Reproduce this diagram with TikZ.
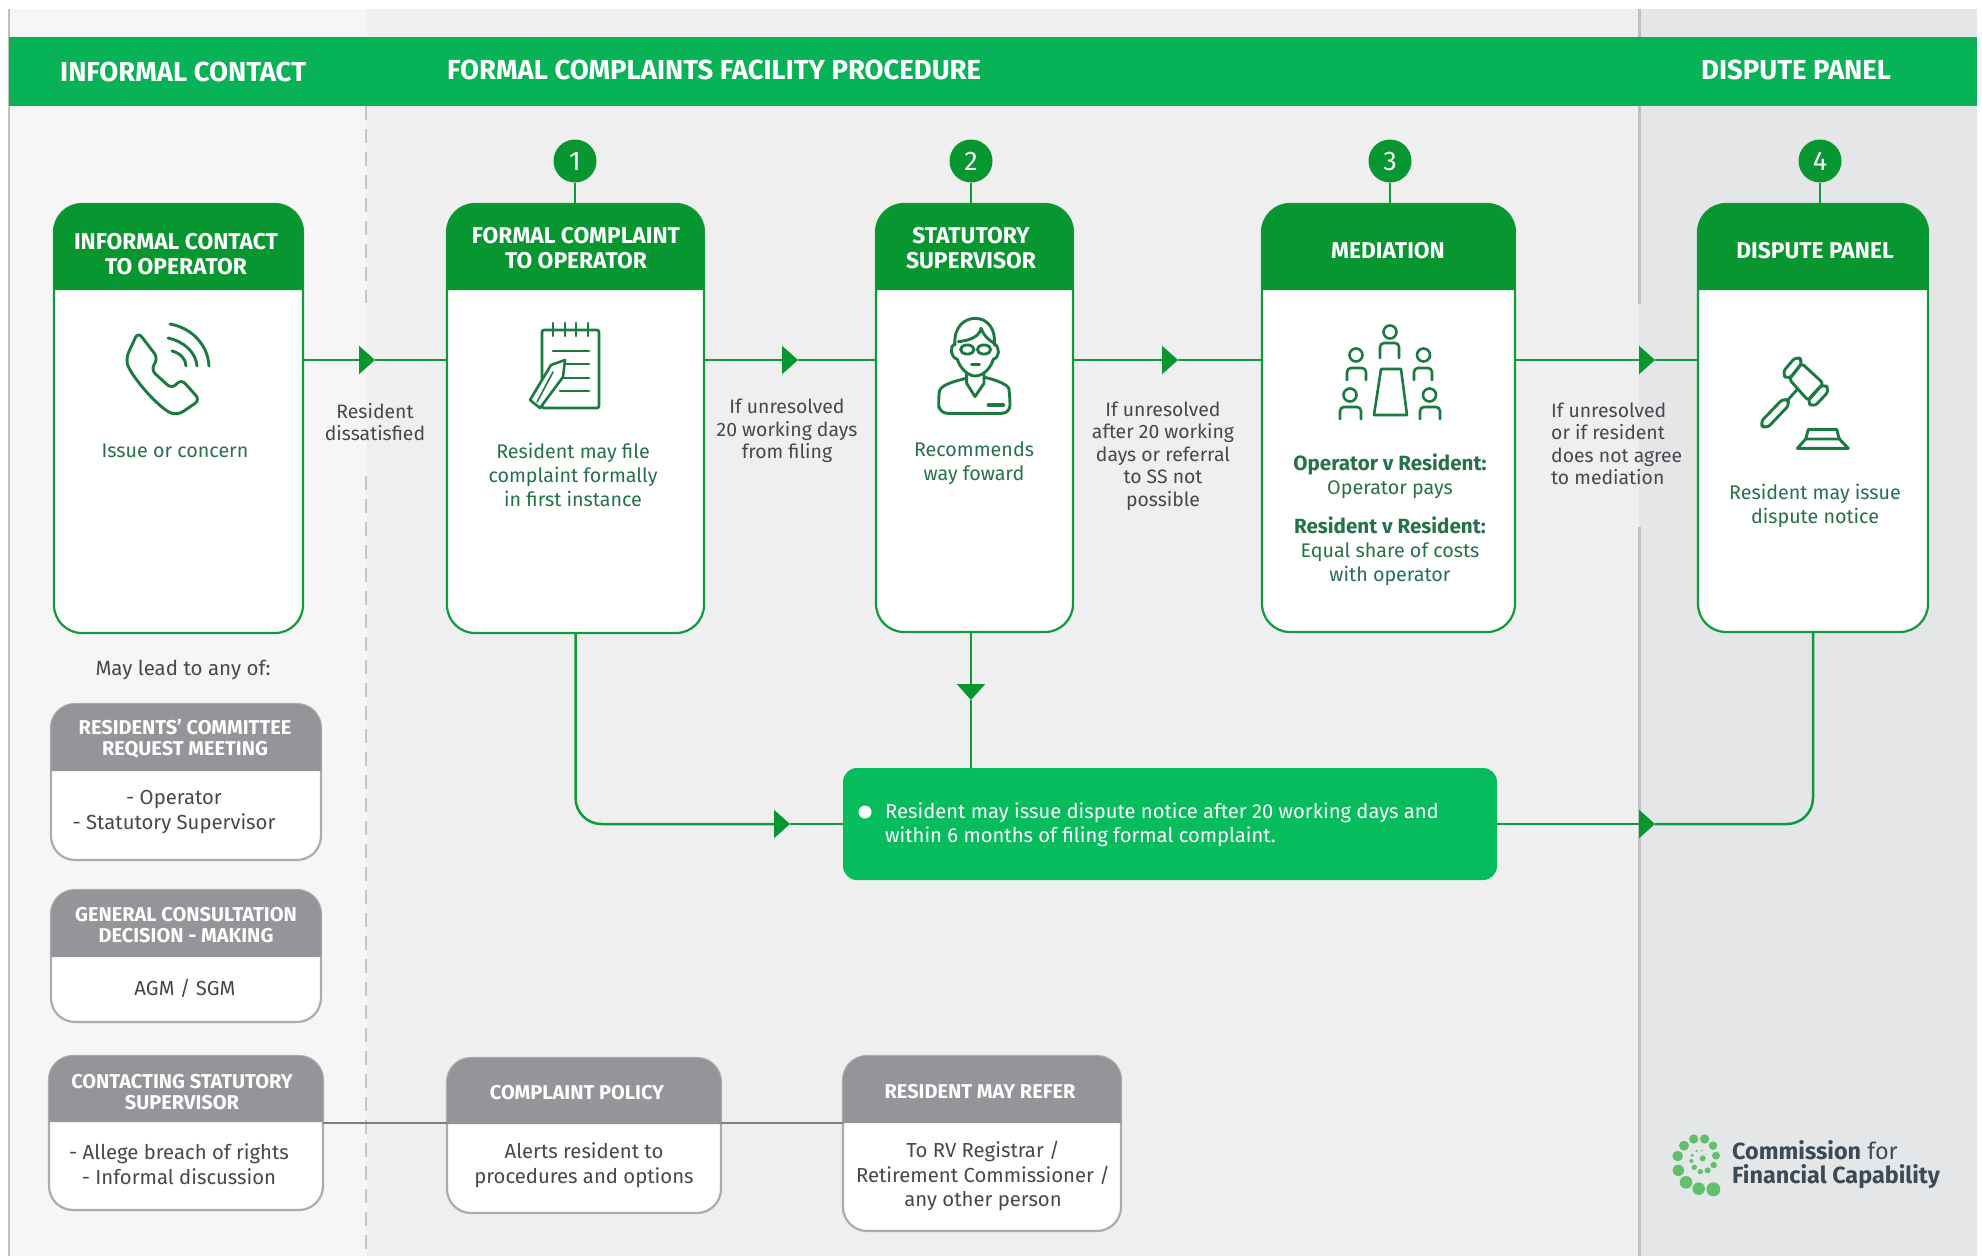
\documentclass[tikz,border=0pt]{standalone}
\usepackage{fontspec}
\setmainfont{Fira Sans}
\usetikzlibrary{arrows.meta}
\definecolor{bandgreen}{HTML}{08B256}
\definecolor{headgreen}{HTML}{07962F}
\definecolor{linegreen}{HTML}{119A38}
\definecolor{icongreen}{HTML}{1A7A40}
\definecolor{txtgreen}{HTML}{25714A}
\definecolor{boxgreen}{HTML}{06BC5C}
\definecolor{headgray}{HTML}{939598}
\definecolor{txtgray}{HTML}{47474C}
\definecolor{bgleft}{HTML}{F6F6F6}
\definecolor{bgmid}{HTML}{EFEFEF}
\definecolor{bgright}{HTML}{E5E6E8}
\definecolor{logotxt}{HTML}{3C4A56}
\definecolor{logogreen}{HTML}{62BF6C}
\newcommand{\fs}[2]{\fontsize{#1}{#2}\selectfont}
\tikzset{
  conn/.style={draw=linegreen,line width=2.5pt},
  tipped/.style={-{Triangle[length=16pt,width=28pt,color=headgreen]}},
  headtxt/.style={text=white,align=center,inner sep=0pt,font=\bfseries\fs{22.8}{25}},
  bandtxt/.style={text=white,inner sep=0pt,font=\bfseries\fs{27.5}{30}},
  bodytxt/.style={text=txtgreen,align=center,inner sep=0pt,font=\fs{19.7}{24}},
  sidetxt/.style={text=txtgray,align=center,inner sep=0pt,font=\fs{19.4}{22.5}},
  grayhead/.style={text=white,align=center,inner sep=0pt,font=\bfseries\fs{20}{21.5}},
  graybody/.style={text=txtgray,align=center,inner sep=0pt,font=\fs{20.3}{24.5}},
  numc/.style={circle,fill=headgreen,text=white,inner sep=0pt,minimum size=43pt,font=\fs{27}{30}},
  icon/.style={draw=icongreen,line width=2.9pt,line join=round,line cap=round},
}
% name x1 y1 x2 y2 yhead colour border-colour radius
\newcommand{\panel}[9]{%
  \node[draw=#8,fill=white,line width=2.2pt,rounded corners=#9pt,inner sep=0pt,outer sep=0pt,
        minimum width={(#4-#2)*1pt},minimum height={(#5-#3)*1pt},anchor=north west] (#1) at (#2,#3) {};
  \fill[#7] (#2,#6) -- ({#2},{#3+#9})
     .. controls ({#2},{#3+0.45*#9}) and ({#2+0.45*#9},{#3}) .. ({#2+#9},{#3})
     -- ({#4-#9},{#3})
     .. controls ({#4-0.45*#9},{#3}) and ({#4},{#3+0.45*#9}) .. ({#4},{#3+#9})
     -- (#4,#6) -- cycle;
}
\begin{document}
\begin{tikzpicture}[x=1pt,y=-1pt]
\useasboundingbox (0,0) rectangle (1982,1256);
\fill[white] (0,0) rectangle (1982,1256);
% backgrounds
\fill[bgleft] (9,9) rectangle (367,1256);
\fill[bgmid] (367,9) rectangle (1639,1256);
\fill[bgright] (1639,9) rectangle (1977,1256);
\draw[gray!50,line width=1.2pt] (9,9) -- (9,1256);
\draw[gray!45,line width=1.6pt,dash pattern=on 14pt off 9pt] (366,106) -- (366,303);
\draw[gray!45,line width=1.6pt,dash pattern=on 14pt off 9pt] (366,476) -- (366,1256);
\draw[gray!50,line width=3pt] (1639,9) -- (1639,304);
\draw[gray!50,line width=3pt] (1639,527) -- (1639,1256);
% band
\fill[bandgreen] (9,37) rectangle (1977,106);
\node[bandtxt,anchor=west] (t1) at (60,72) {INFORMAL CONTACT};
\node[bandtxt,anchor=west] (t2) at (447,70) {FORMAL COMPLAINTS FACILITY PROCEDURE};
\node[bandtxt,anchor=west] (t3) at (1701,70) {DISPUTE PANEL};
% coordinates for arrow tips
\coordinate (a0) at (375,360);
\coordinate (a1) at (798,360);
\coordinate (a2) at (1178,360);
\coordinate (a3) at (1655,360);
\coordinate (a5) at (790,824);
\coordinate (a6) at (1655,824);
\coordinate (ad) at (971,700);
% step panels
\panel{b0}{54}{204}{303}{633}{290}{headgreen}{linegreen}{28}
\panel{b1}{447}{204}{704}{633}{290}{headgreen}{linegreen}{28}
\panel{b2}{876}{204}{1073}{632}{290}{headgreen}{linegreen}{28}
\panel{b3}{1262}{204}{1515}{632}{290}{headgreen}{linegreen}{28}
\panel{b4}{1698}{204}{1928}{632}{290}{headgreen}{linegreen}{28}
\node[headtxt] (h0) at (176,254) {INFORMAL CONTACT\\TO OPERATOR};
\node[headtxt] (h1) at (576,248) {FORMAL COMPLAINT\\TO OPERATOR};
\node[headtxt] (h2) at (971,248) {STATUTORY\\SUPERVISOR};
\node[headtxt] (h3) at (1388,251) {MEDIATION};
\node[headtxt] (h4) at (1815,251) {DISPUTE PANEL};
% number circles
\node[numc] (c1) at (575,161) {1};
\node[numc] (c2) at (971,161) {2};
\node[numc] (c3) at (1390,161) {3};
\node[numc] (c4) at (1820,161) {4};
\draw[conn] (c1) -- (c1 |- b1.north);
\draw[conn] (c2) -- (c2 |- b2.north);
\draw[conn] (c3) -- (c3 |- b3.north);
\draw[conn] (c4) -- (c4 |- b4.north);
% horizontal connectors
\draw[conn,tipped] (b0.east |- a0) -- (a0);
\draw[conn] (a0) -- (a0 -| b1.west);
\draw[conn,tipped] (b1.east |- a1) -- (a1);
\draw[conn] (a1) -- (a1 -| b2.west);
\draw[conn,tipped] (b2.east |- a2) -- (a2);
\draw[conn] (a2) -- (a2 -| b3.west);
\draw[conn,tipped] (b3.east |- a3) -- (a3);
\draw[conn] (a3) -- (a3 -| b4.west);
% green note
\node[fill=boxgreen,rounded corners=14pt,inner sep=0pt,outer sep=0pt,minimum width=654pt,minimum height=112pt,anchor=north west] (note) at (843,768) {};
\fill[white] (865,812) circle (6.5pt);
\node[text=white,align=left,inner sep=0pt,anchor=west,font=\fs{20.2}{23.5}] (notet) at (885,825) {Resident may issue dispute notice after 20 working days and\\within 6 months of filing formal complaint.};
\draw[conn,tipped,rounded corners=26pt] (b1.south) -- (b1.south |- a5) -- (a5);
\draw[conn] (a5) -- (note.west);
\draw[conn,tipped] (c2 |- b2.south) -- (ad);
\draw[conn] (ad) -- (ad |- note.north);
\draw[conn,rounded corners=26pt] (a6) -- (b4.south |- a6) -- (b4.south);
\draw[conn,tipped] (note.east) -- (a6);
% body text
\node[bodytxt] (x0) at (175,451) {Issue or concern};
\node[bodytxt] (x1) at (573,475) {Resident may file\\complaint formally\\in first instance};
\node[bodytxt] (x2) at (974,463) {Recommends\\way foward};
\node[bodytxt] (x3a) at (1390,476) {\fs{20.6}{24}\bfseries Operator v Resident:\\\fs{19.7}{24}\mdseries Operator pays};
\node[bodytxt] (x3b) at (1390,551) {\fs{20.6}{24}\bfseries Resident v Resident:\\\fs{19.7}{24}\mdseries Equal share of costs\\with operator};
\node[bodytxt] (x4) at (1815,506) {Resident may issue\\dispute notice};
% side labels
\node[sidetxt] (s0) at (375,422) {Resident\\dissatisfied};
\node[sidetxt] (s1) at (787,431) {If unresolved\\20 working days\\from filing};
\node[sidetxt] (s2) at (1163,456) {If unresolved\\after 20 working\\days or referral\\to SS not\\possible};
\node[sidetxt,align=left,anchor=west] (s3) at (1551,444) {If unresolved\\or if resident\\does not agree\\to mediation};
\node[sidetxt,font=\fs{20.5}{24}] (s4) at (183,670) {May lead to any of:};
% gray panels
\panel{g0}{51}{704}{321}{860}{771}{headgray}{gray!65}{24}
\panel{g1}{51}{890}{321}{1022}{957}{headgray}{gray!65}{24}
\panel{g2}{49}{1056}{323}{1210}{1122}{headgray}{gray!65}{24}
\panel{g3}{447}{1058}{721}{1213}{1124}{headgray}{gray!65}{24}
\panel{g4}{843}{1056}{1121}{1231}{1123}{headgray}{gray!65}{24}
\coordinate (gl) at (0,1123);
\draw[draw=headgray!85!black,line width=2.5pt] (g2.east |- gl) -- (g3.west |- gl);
\draw[draw=headgray!85!black,line width=2.5pt] (g3.east |- gl) -- (g4.west |- gl);
\node[grayhead] (gh0) at (185,739) {RESIDENTS' COMMITTEE\\REQUEST MEETING};
\node[grayhead] (gh1) at (186,925) {GENERAL CONSULTATION\\DECISION - MAKING};
\node[grayhead] (gh2) at (182,1092) {CONTACTING STATUTORY\\SUPERVISOR};
\node[grayhead] (gh3) at (577,1093) {COMPLAINT POLICY};
\node[grayhead] (gh4) at (980,1092) {RESIDENT MAY REFER};
\node[graybody] (gb0) at (174,812) {- Operator\\- Statutory Supervisor};
\node[graybody] (gb1) at (185,988) {AGM / SGM};
\node[graybody] (gb2) at (179,1164) {- Allege breach of rights\\- Informal discussion};
\node[graybody] (gb3) at (584,1165) {Alerts resident to\\procedures and options};
\node[graybody] (gb4) at (983,1176) {To RV Registrar /\\Retirement Commissioner /\\any other person};
% phone icon
\draw[icon,rounded corners=6pt] (138,332) -- (158,358) -- (151,370) -- (172,389) -- (181,379) -- (200,400) -- (178,415) .. controls (160,410) and (130,375) .. (126,358) -- cycle;
\draw[icon] (170,324) .. controls (192,328) and (208,345) .. (209,366);
\draw[icon] (168,338) .. controls (183,341) and (196,352) .. (197,366);
\draw[icon] (172,351) .. controls (180,353) and (186,359) .. (186,366);
% notepad icon
\draw[icon,line width=2.6pt,rounded corners=2pt] (542,330) rectangle (599,408);
\foreach \xx in {553,565,576,588}{\draw[icon,line width=2.4pt] (\xx,323) -- (\xx,336);}
\draw[icon,line width=2.4pt] (553,351) -- (589,351);
\draw[icon,line width=2.4pt] (566,364) -- (589,364);
\draw[icon,line width=2.4pt] (560,378) -- (589,378);
\draw[icon,line width=2.4pt] (560,391) -- (589,391);
\draw[icon,fill=white,line width=2.6pt] (565,360) -- (551,365) -- (530,400) -- (540,408) -- (563,377) -- cycle;
\draw[icon,line width=1.6pt] (553,372) -- (537,402);
% person icon
\begin{scope}[shift={(900,300)},x=0.3333pt,y=-0.3333pt]
\draw[icon] (165,135) .. controls (160,80) and (195,55) .. (225,55) .. controls (265,55) and (288,90) .. (283,135);
\draw[icon] (175,125) .. controls (205,122) and (238,112) .. (243,85) .. controls (250,105) and (265,120) .. (283,130);
\draw[icon] (165,130) .. controls (148,140) and (150,170) .. (172,178) .. controls (180,205) and (205,228) .. (225,228) .. controls (250,228) and (272,205) .. (280,178) .. controls (300,170) and (300,145) .. (283,130);
\draw[icon,rounded corners=5pt] (182,135) rectangle (222,162);
\draw[icon,rounded corners=5pt] (232,135) rectangle (272,162);
\draw[icon] (215,193) -- (238,193);
\draw[icon] (200,222) -- (200,250) -- (225,290) -- (252,250) -- (252,222);
\draw[icon,rounded corners=8pt] (198,235) .. controls (160,245) and (120,255) .. (115,300) -- (118,340) -- (330,340) -- (330,290) .. controls (325,255) and (290,240) .. (254,232);
\draw[icon,line width=3.6pt] (265,315) -- (310,315);
\end{scope}
% people icon
\draw[icon,line width=2.6pt] (1381,369) -- (1401,369) -- (1407,415) -- (1374,415) -- cycle;
\foreach \hx/\hy/\ax/\bx/\ay/\by in {1390/332/1380/1399/343/358,1356/355/1347/1366/368/380,1423.5/355/1414/1432/368/380,1350/395/1340/1361/407/419,1429.5/395/1420/1440/407/419}{
  \draw[icon,line width=2.6pt] (\hx,\hy) circle (6.5pt);
  \draw[icon,line width=2.6pt,rounded corners=4pt] (\ax,\by) -- (\ax,\ay) -- (\bx,\ay) -- (\bx,\by);
}
% gavel icon
\begin{scope}[shift={(1740,340)},x=0.3333pt,y=-0.3333pt]
\draw[icon,rounded corners=3pt] (185,70) -- (250,130) -- (205,182) -- (148,118) -- cycle;
\draw[icon,rounded corners=6pt] (170,47) -- (190,65) -- (145,120) -- (125,100) -- cycle;
\draw[icon,rounded corners=6pt] (250,130) -- (270,150) -- (220,203) -- (200,183) -- cycle;
\draw[icon,rounded corners=6pt] (133,172) -- (152,190) -- (78,268) -- (58,250) -- cycle;
\draw[icon] (170,150) -- (145,178);
\draw[icon] (205,268) -- (290,268) -- (298,297) -- (197,297) -- cycle;
\draw[icon] (197,297) -- (172,325) -- (325,325) -- (298,297);
\end{scope}
% logo
\begin{scope}[shift={(1600,1080)},x=0.3333pt,y=-0.3333pt]
\foreach \px/\py/\pr in {340/328/7,296/326/6.3,258/307/6.3,235/271/5.7,233/228/5.3,252/197/5,281/177/4.7,314/177/4.7,339/197/4.3,348/227/4,341/255/3.3,323/271/3,301/275/2.7,283/262/2.7,274/243/2,277/226/1.7,290/213/1.3,305/212/1,318/222/.7,308/235/3}{
  \fill[logogreen] (\px,\py) circle (\pr pt);
}
\end{scope}
\node[text=logotxt,align=left,anchor=west,inner sep=0pt,font=\fs{23.4}{24}] (logo) at (1732,1165) {\textbf{Commission} for\\\textbf{Financial Capability}};
\end{tikzpicture}
\end{document}
